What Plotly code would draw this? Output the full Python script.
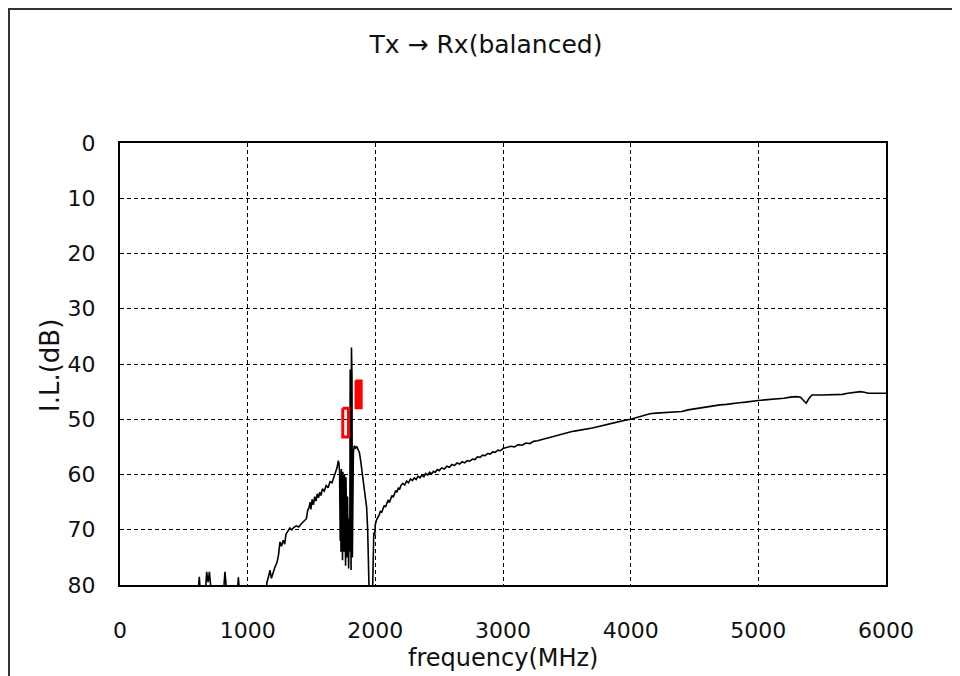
import plotly.graph_objects as go

# Tx -> Rx (balanced) insertion loss
freq_mhz = [
    500, 600, 615, 621, 628, 670, 679, 690, 700, 712, 730,
    800, 812, 822, 835, 850, 910, 920, 927, 935, 960,
    1130, 1145, 1151, 1163, 1175, 1186, 1196, 1210, 1231, 1242, 1253, 1265, 1278,
    1290, 1300, 1315, 1330, 1345, 1360, 1380, 1400, 1420, 1440, 1460, 1470, 1480,
    1490, 1495, 1505, 1515, 1525, 1535, 1545, 1555, 1565, 1575, 1585, 1600, 1615,
    1630, 1645, 1660, 1675, 1690, 1700, 1710, 1715, 1720,
    1722, 1725, 1728, 1731, 1734, 1737, 1740, 1743, 1746, 1749, 1752, 1755, 1758,
    1761, 1764, 1767, 1770, 1773, 1776, 1779, 1782, 1785, 1788, 1791, 1794, 1797,
    1800, 1803, 1806, 1810, 1813, 1817, 1820, 1824, 1828,
    1835, 1845, 1855, 1865, 1875, 1885, 1895, 1905, 1915, 1925, 1932, 1940, 1948,
    1955, 1975, 1982, 1988, 1995,
    2000, 2010, 2020, 2030, 2040, 2050, 2060, 2070, 2080, 2090, 2100, 2110, 2120,
    2130, 2140, 2150, 2160, 2170, 2180, 2190, 2200, 2215, 2230, 2245, 2260, 2275,
    2290, 2305, 2320, 2335, 2350, 2365, 2380, 2395, 2410, 2425, 2440, 2455, 2470,
    2485, 2500, 2520, 2540, 2560, 2580, 2600, 2620, 2640, 2660, 2680, 2700, 2720,
    2740, 2760, 2780, 2800, 2820, 2840, 2860, 2880, 2900, 2920, 2940, 2960, 2980,
    3000, 3030, 3060, 3090, 3120, 3150, 3180, 3210, 3240, 3270, 3300, 3330, 3360,
    3390, 3420, 3450, 3480, 3510, 3540, 3570, 3600, 3650, 3700, 3750, 3800, 3850,
    3900, 3950, 4000, 4050, 4100, 4150, 4200, 4300, 4400, 4450, 4500, 4550, 4600,
    4650, 4700, 4750, 4800, 4850, 4900, 4950, 5000, 5050, 5100, 5150, 5200, 5250,
    5300, 5330, 5360, 5375, 5395, 5420, 5500, 5600, 5660, 5700, 5760, 5800, 5830,
    5860, 5950, 6000,
]
il_db = [
    85, 85, 80.5, 78.5, 81, 81, 77.6, 79.5, 77.6, 81, 85,
    85, 80.5, 77.6, 81, 85, 85, 80.5, 78.6, 81, 85,
    85, 81, 79.5, 78.5, 77.3, 78.8, 77.9, 77, 75.8, 74.5, 72.2, 73, 71.9,
    72.6, 70.8, 70.2, 69.7, 70, 69.6, 69.3, 69.5, 68.9, 68.5, 68, 66.5, 66,
    65, 66.3, 64.5, 65.5, 64, 64.8, 63.5, 64.2, 63.2, 63.8, 62.6, 63, 62,
    62.4, 61.3, 61.5, 60.5, 59.5, 58.8, 57.5, 58, 59.5,
    62, 72, 60, 74, 59, 70, 60.5, 75.5, 59.5, 72, 61, 74, 60,
    68, 62, 76.5, 60.5, 73, 63, 75, 64, 70, 66, 77, 68, 72,
    74, 41, 76.5, 77.3, 37, 42, 75, 68, 56,
    54.8, 55.2, 55, 55.6, 56, 57.5, 59.5, 61, 63, 65.5, 66, 70, 76,
    85, 85, 74, 70.5, 71,
    69, 68.2, 67.8, 67.3, 66.6, 66.9, 66.2, 65.6, 65.9, 65.0, 64.6, 65.1, 64.3,
    63.8, 64.1, 63.3, 62.9, 63.2, 62.4, 62.7, 62.0, 61.6, 61.9, 61.2, 61.5, 60.8,
    61.1, 60.6, 60.9, 60.3, 60.6, 60.1, 60.4, 59.8, 60.1, 59.6, 59.9, 59.4, 59.6,
    59.1, 59.3, 58.8, 59.0, 58.5, 58.7, 58.2, 58.4, 57.9, 58.1, 57.7, 57.9, 57.5,
    57.6, 57.2, 57.3, 56.8, 56.9, 56.5, 56.6, 56.2, 56.3, 55.9, 56.0, 55.6, 55.7,
    55.3, 55.1, 54.9, 55.0, 54.6, 54.7, 54.3, 54.4, 54.0, 53.9, 53.7, 53.6, 53.3,
    53.2, 52.9, 52.8, 52.5, 52.4, 52.2, 52.1, 52.0, 51.8, 51.6, 51.3, 51, 50.8,
    50.5, 50.2, 50, 49.7, 49.3, 49, 48.9, 48.7, 48.6, 48.3, 48.1, 47.9, 47.7,
    47.5, 47.4, 47.3, 47.1, 47, 46.9, 46.7, 46.6, 46.5, 46.4, 46.4, 46.2, 46,
    45.9, 46.0, 46.8, 47.1, 46.3, 45.6, 45.6, 45.6, 45.5, 45.3, 45.2, 45.0, 45.1,
    45.3, 45.3, 45.3,
]

# spec masks (red)
mask1_f = [1745, 1790]
mask1_db = [48.0, 53.2]
mask2_f = [1845, 1893]
mask2_db = [43.0, 48.0]

FONT = "DejaVu Sans"
TXT = '#111111'

# the page body keeps its 8px margin, so the figure is 8px smaller
W, H = 952, 668
OFF = 8
L, R, T, B = 120 - OFF, 886 - OFF, 143 - OFF, 585 - OFF  # plot box in figure px

fig = go.Figure()

fig.add_trace(go.Scatter(
    x=freq_mhz, y=il_db, mode='lines',
    line=dict(color='black', width=1.6),
    showlegend=False, hoverinfo='x+y'
))

# open red box
fig.add_trace(go.Scatter(
    x=[mask1_f[0], mask1_f[1], mask1_f[1], mask1_f[0], mask1_f[0]],
    y=[mask1_db[0], mask1_db[0], mask1_db[1], mask1_db[1], mask1_db[0]],
    mode='lines', line=dict(color='red', width=3),
    showlegend=False
))
# filled red box
fig.add_trace(go.Scatter(
    x=[mask2_f[0], mask2_f[1], mask2_f[1], mask2_f[0], mask2_f[0]],
    y=[mask2_db[0], mask2_db[0], mask2_db[1], mask2_db[1], mask2_db[0]],
    mode='lines', fill='toself', fillcolor='red',
    line=dict(color='red', width=2),
    showlegend=False
))

axis_common = dict(
    showgrid=True, gridcolor='black', gridwidth=1, griddash='4px,3px',
    showline=True, linecolor='black', linewidth=2, mirror=True,
    zeroline=False, ticks='',
    tickfont=dict(family=FONT, size=22, color=TXT),
)

fig.update_xaxes(range=[0, 6000], dtick=1000, tick0=0, ticklabelstandoff=25,
                 **axis_common)
fig.update_yaxes(range=[80, 0], dtick=10, tick0=0, ticklabelstandoff=18,
                 **axis_common)


def px_x(p):
    # reference-picture x pixel -> paper coordinate
    return (p - OFF - L) / (R - L)


def px_y(p):
    # reference-picture y pixel -> paper coordinate
    return (B - (p - OFF)) / (B - T)


fig.update_layout(
    width=W, height=H,
    margin=dict(l=L, r=W - R, t=T, b=H - B),
    paper_bgcolor='white', plot_bgcolor='white',
    title=dict(text='Tx → Rx(balanced)', x=px_x(486), xref='paper',
               xanchor='center', y=1 - (44 - OFF) / H, yanchor='middle',
               font=dict(family=FONT, size=25, color=TXT)),
    annotations=[
        dict(text='frequency(MHz)', x=0.5, y=px_y(658), xref='paper', yref='paper',
             showarrow=False, xanchor='center', yanchor='middle',
             font=dict(family=FONT, size=24, color=TXT)),
        dict(text='I.L.(dB)', x=px_x(50), y=px_y(366), xref='paper', yref='paper',
             showarrow=False, textangle=-90, xanchor='center', yanchor='middle',
             font=dict(family=FONT, size=26, color=TXT)),
    ],
    shapes=[
        # outer frame of the sheet
        dict(type='rect', xref='paper', yref='paper',
             x0=px_x(9), x1=px_x(990), y0=px_y(700), y1=px_y(9),
             line=dict(color='#333333', width=2), layer='below'),
    ],
)

fig.write_html("out.html")
